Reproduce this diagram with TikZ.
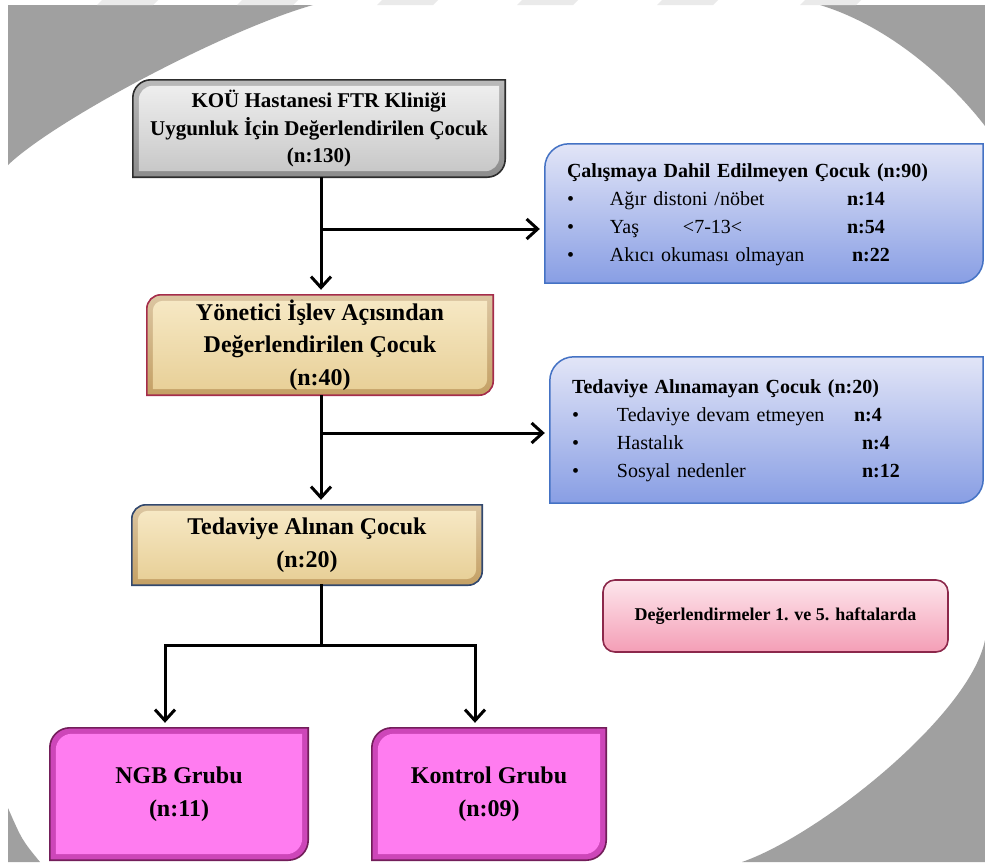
\documentclass[tikz,border=0pt]{standalone}
\usepackage{fontspec}
\setmainfont{Liberation Serif}
\usepackage{xcolor}
\usepackage{tikz}
\usetikzlibrary{arrows.meta, positioning, calc, backgrounds}
\definecolor{backdrop}{RGB}{160,160,160}
\definecolor{stripe}{RGB}{234,234,234}
\definecolor{silverlight}{RGB}{238,238,238}
\definecolor{silverdark}{RGB}{200,200,200}
\definecolor{silveredge}{RGB}{140,140,140}
\definecolor{silverline}{RGB}{45,45,45}
\definecolor{parchlight}{RGB}{246,232,196}
\definecolor{parchdark}{RGB}{232,208,152}
\definecolor{parchedge}{RGB}{196,160,100}
\definecolor{crimson}{RGB}{165,45,75}
\definecolor{slate}{RGB}{50,72,110}
\definecolor{lavender}{RGB}{226,229,247}
\definecolor{cornflower}{RGB}{136,158,228}
\definecolor{royal}{RGB}{68,114,196}
\definecolor{ngbpink}{RGB}{255,124,240}
\definecolor{ngbedge}{RGB}{205,70,185}
\definecolor{plum}{RGB}{115,30,90}
\definecolor{blushlight}{RGB}{253,230,236}
\definecolor{blushdark}{RGB}{244,158,182}
\definecolor{wine}{RGB}{140,40,75}
\tikzstyle{plate} = [rectangle, inner sep=0pt, align=center, text=black]
\tikzstyle{screentext} = [font=\bfseries\fontsize{21}{27.5}\selectfont]
\tikzstyle{parchtext} = [font=\bfseries\fontsize{24}{32.5}\selectfont]
\tikzstyle{grouptext} = [font=\bfseries\fontsize{24}{33}\selectfont]
\tikzstyle{panel} = [rectangle, inner xsep=22pt, inner ysep=0pt, align=left, font=\fontsize{20}{28}\selectfont]
\tikzstyle{notebox} = [rectangle, rounded corners=12pt, draw=wine, line width=1.6pt, top color=blushlight, bottom color=blushdark, inner sep=0pt, font=\bfseries\fontsize{18}{22}\selectfont]
\tikzstyle{silverbevel} = [draw=silverline, line width=1.6pt, top color=silveredge!60, bottom color=silveredge]
\tikzstyle{silverface} = [top color=silverlight, bottom color=silverdark]
\tikzstyle{parchbevel} = [line width=1.6pt, top color=parchedge!60, bottom color=parchedge]
\tikzstyle{parchface} = [top color=parchlight, bottom color=parchdark]
\tikzstyle{pinkbevel} = [draw=plum, line width=1.6pt, fill=ngbedge]
\tikzstyle{pinkface} = [fill=ngbpink]
\tikzstyle{bluepanel} = [draw=royal, line width=1.5pt, top color=lavender, bottom color=cornflower]
\tikzstyle{link} = [line width=3pt, line cap=rect]
\tikzstyle{arrow} = [line width=3pt, -{Straight Barb[length=11pt, width=20pt]}, shorten >=5pt]
% frame with rounded top-left and bottom-right corners
\newcommand{\diagframe}[4][0pt]{%
  \path[#3]
    ([shift={(#1,#1)}]#2.south west)
    -- ([shift={(#1,-#1-#4)}]#2.north west)
    arc[start angle=180, end angle=90, radius=#4]
    -- ([shift={(-#1,-#1)}]#2.north east)
    -- ([shift={(-#1,#1+#4)}]#2.south east)
    arc[start angle=0, end angle=-90, radius=#4]
    -- cycle;}

\begin{document}
\begin{tikzpicture}[x=1pt, y=1pt]
    \useasboundingbox (0,0) rectangle (985,-862);

    % backdrop: grey corners round a white oval
    \begin{scope}[on background layer]
        \fill[white] (0,0) rectangle (985,-862);
        \fill[backdrop] (8,-5) -- (313,-5) .. controls (225,-30) and (55,-120) .. (8,-165) -- cycle;
        \fill[backdrop] (820,-5) -- (985,-5) -- (985,-126) .. controls (955,-87) and (895,-28) .. (820,-5) -- cycle;
        \fill[backdrop] (985,-640) -- (985,-862) -- (742,-862) .. controls (820,-835) and (970,-715) .. (985,-640) -- cycle;
        \fill[backdrop] (8,-808) -- (8,-862) -- (40,-862) .. controls (22,-840) .. (8,-808) -- cycle;
        \foreach \x in {102,242,382,522,662,805}
            \fill[stripe] (\x,0) -- ++(56,0) -- ++(-5,-5) -- ++(-56,0) -- cycle;
    \end{scope}

    \node[plate, screentext, minimum width=372pt, minimum height=97pt] (screen) at (319,-128.5)
        {KOÜ Hastanesi FTR Kliniği\\Uygunluk İçin Değerlendirilen Çocuk\\(n:130)};
    \node[panel, text width=394pt, minimum height=139pt] (excl) at (764,-213.5)
        {\begin{tabular}{@{}p{43pt}@{}p{237pt}@{}l@{}}
         \multicolumn{3}{@{}l@{}}{\textbf{Çalışmaya Dahil Edilmeyen Çocuk (n:90)}}\\
         • & Ağır distoni /nöbet & \textbf{n:14}\\
         • & \makebox[73pt][l]{Yaş}<7-13< & \textbf{n:54}\\
         • & Akıcı okuması olmayan & \hspace*{5pt}\textbf{n:22}
         \end{tabular}};
    \node[plate, parchtext, minimum width=346pt, minimum height=100pt] (assess) at (320,-345)
        {Yönetici İşlev Açısından\\Değerlendirilen Çocuk\\(n:40)};
    \node[panel, text width=389pt, minimum height=146pt] (dropout) at (766.5,-430)
        {\begin{tabular}{@{}p{45pt}@{}p{237pt}@{}l@{}}
         \multicolumn{3}{@{}l@{}}{\textbf{Tedaviye Alınamayan Çocuk (n:20)}}\\
         • & Tedaviye devam etmeyen & \textbf{n:4}\\
         • & Hastalık & \hspace*{8pt}\textbf{n:4}\\
         • & Sosyal nedenler & \hspace*{8pt}\textbf{n:12}
         \end{tabular}};
    \node[plate, parchtext, minimum width=350pt, minimum height=80pt] (treated) at (307,-545)
        {Tedaviye Alınan Çocuk\\(n:20)};
    \node[notebox, minimum width=345pt, minimum height=72pt] (note) at (775.5,-616)
        {Değerlendirmeler 1. ve 5. haftalarda};
    \node[plate, grouptext, minimum width=258pt, minimum height=132pt] (ngb) at (179,-794)
        {NGB Grubu\\(n:11)};
    \node[plate, grouptext, minimum width=234pt, minimum height=132pt] (control) at (489,-794)
        {Kontrol Grubu\\(n:09)};

    % box frames
    \begin{scope}[on background layer]
        \diagframe{screen}{silverbevel}{18pt}
        \diagframe[6pt]{screen}{silverface}{14pt}
        \diagframe{excl}{bluepanel}{24pt}
        \diagframe{assess}{parchbevel, draw=crimson}{14pt}
        \diagframe[6pt]{assess}{parchface}{10pt}
        \diagframe{dropout}{bluepanel}{24pt}
        \diagframe{treated}{parchbevel, draw=slate}{14pt}
        \diagframe[6pt]{treated}{parchface}{10pt}
        \diagframe{ngb}{pinkbevel}{20pt}
        \diagframe[6pt]{ngb}{pinkface}{16pt}
        \diagframe{control}{pinkbevel}{20pt}
        \diagframe[6pt]{control}{pinkface}{16pt}
    \end{scope}

    \coordinate (trunk) at (321,0);
    \coordinate (fork1) at (321,-229);
    \coordinate (fork2) at (321,-433);
    \coordinate (split) at (321,-645);
    \coordinate (splitL) at (165,-645);
    \coordinate (splitR) at (475,-645);

    \draw[arrow] (screen.south -| trunk) -- (assess.north -| trunk);
    \draw[arrow] (fork1) -- (fork1 -| excl.west);
    \draw[arrow] (assess.south -| trunk) -- (treated.north -| trunk);
    \draw[arrow] (fork2) -- (fork2 -| dropout.west);
    \draw[link] (treated.south -| trunk) -- (split);
    \draw[link] (splitL) -- (splitR);
    \draw[arrow] (splitL) -- (splitL |- ngb.north);
    \draw[arrow] (splitR) -- (splitR |- control.north);
\end{tikzpicture}
\end{document}
